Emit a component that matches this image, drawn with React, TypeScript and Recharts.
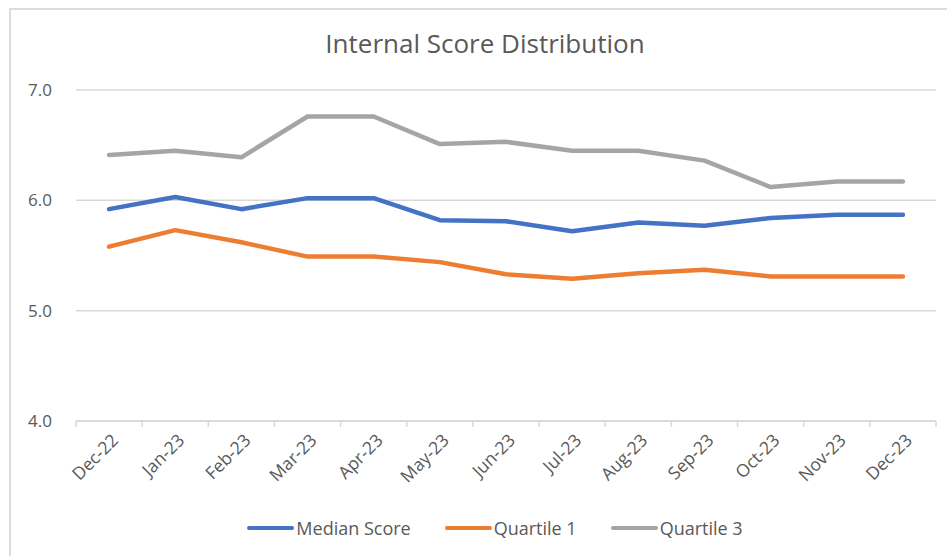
import { LineChart, Line, XAxis, YAxis, CartesianGrid, Legend } from 'recharts';

const months = [
  'Dec-22', 'Jan-23', 'Feb-23', 'Mar-23', 'Apr-23', 'May-23', 'Jun-23',
  'Jul-23', 'Aug-23', 'Sep-23', 'Oct-23', 'Nov-23', 'Dec-23',
];
const medianScore = [5.92, 6.03, 5.92, 6.02, 6.02, 5.82, 5.81, 5.72, 5.8, 5.77, 5.84, 5.87, 5.87];
const quartile1 = [5.58, 5.73, 5.62, 5.49, 5.49, 5.44, 5.33, 5.29, 5.34, 5.37, 5.31, 5.31, 5.31];
const quartile3 = [6.41, 6.45, 6.39, 6.76, 6.76, 6.51, 6.53, 6.45, 6.45, 6.36, 6.12, 6.17, 6.17];
const yTicks = [4, 5, 6, 7];

const chartData = months.map((m, i) => ({
  month: m,
  median: medianScore[i],
  q1: quartile1[i],
  q3: quartile3[i],
}));

const W = 947;
const H = 556;
const Y_AXIS_W = 76;
const MARGIN_RIGHT = 11;
const PLOT_W = W - Y_AXIS_W - MARGIN_RIGHT;
const HALF_STEP = PLOT_W / months.length / 2;
const FONT = '"Open Sans", "Noto Sans", sans-serif';
const TEXT = '#595959';
const GRID = '#d9d9d9';

const series = [
  { key: 'median', name: 'Median Score', color: '#4472C4' },
  { key: 'q1', name: 'Quartile 1', color: '#ED7D31' },
  { key: 'q3', name: 'Quartile 3', color: '#A5A5A5' },
];

// Excel-style category tick: tick marks sit between categories, label rotated -45deg
function MonthTick(props: any) {
  const { x, y, payload, index } = props;
  const last = index === months.length - 1;
  const tx = x + 6;
  const ty = y + 16;
  return (
    <g>
      <line x1={x - HALF_STEP} x2={x - HALF_STEP} y1={y} y2={y + 6} stroke={GRID} strokeWidth={1.5} />
      {last && <line x1={x + HALF_STEP} x2={x + HALF_STEP} y1={y} y2={y + 6} stroke={GRID} strokeWidth={1.5} />}
      <text
        x={tx}
        y={ty}
        dy="0.35em"
        textAnchor="end"
        transform={`rotate(-45 ${tx} ${ty})`}
        fill={TEXT}
        fontSize={17.5}
        fontFamily={FONT}
      >
        {payload.value}
      </text>
    </g>
  );
}

function LegendContent() {
  return (
    <div style={{ display: 'flex', justifyContent: 'center', alignItems: 'center', height: 24, paddingLeft: 43, fontFamily: FONT, fontSize: 18, color: TEXT }}>
      {series.map((s) => (
        <div key={s.key} style={{ display: 'flex', alignItems: 'center', margin: '0 17px' }}>
          <span style={{ display: 'inline-block', width: 47, height: 4, borderRadius: 2, background: s.color, marginRight: 2 }} />
          <span>{s.name}</span>
        </div>
      ))}
    </div>
  );
}

export default function App() {
  return (
    <div style={{ position: 'relative', width: W, height: H, overflow: 'hidden', background: '#fff' }}>
      <style>{'body{margin:0;}'}</style>
      <div style={{ position: 'absolute', left: 9, top: 8, width: 1200, height: 1200, border: '2px solid #dcdcdc' }} />
      <div style={{ position: 'absolute', left: 0, top: 0 }}>
        <LineChart width={W} height={H} data={chartData} margin={{ top: 90, right: MARGIN_RIGHT, left: 0, bottom: 31 }}>
          <text x={485} y={53} textAnchor="middle" fill={TEXT} fontSize={26} fontFamily={FONT}>
            Internal Score Distribution
          </text>
          <CartesianGrid vertical={false} stroke={GRID} strokeWidth={1.5} />
          <XAxis
            dataKey="month"
            height={80}
            padding={{ left: HALF_STEP, right: HALF_STEP }}
            axisLine={{ stroke: GRID, strokeWidth: 1.5 }}
            tickLine={false}
            tickSize={0}
            tickMargin={0}
            interval={0}
            tick={<MonthTick />}
          />
          <YAxis
            width={Y_AXIS_W}
            domain={[4, 7]}
            ticks={yTicks}
            tickFormatter={(v: number) => v.toFixed(1)}
            axisLine={false}
            tickLine={false}
            tickMargin={18}
            tick={{ fill: TEXT, fontSize: 17, fontFamily: FONT }}
          />
          <Legend verticalAlign="bottom" content={<LegendContent />} wrapperStyle={{ bottom: 16, left: 0, width: W }} />
          {series.map((s) => (
            <Line
              key={s.key}
              type="linear"
              dataKey={s.key}
              name={s.name}
              stroke={s.color}
              strokeWidth={4.5}
              strokeLinecap="round"
              strokeLinejoin="round"
              dot={false}
              activeDot={false}
              isAnimationActive={false}
            />
          ))}
        </LineChart>
      </div>
    </div>
  );
}
